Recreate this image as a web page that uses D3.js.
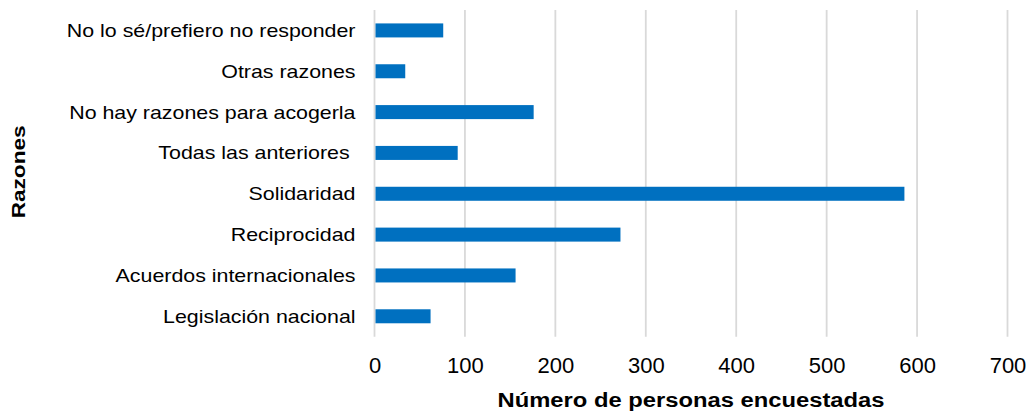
<!DOCTYPE html>
<html>
<head>
<meta charset="utf-8">
<script src="https://cdn.jsdelivr.net/npm/d3@7"></script>
<style>
  html, body { margin: 0; padding: 0; background: #fff; }
  svg { display: block; }
  text { font-family: "Liberation Sans", Arial, sans-serif; fill: #000; }
</style>
</head>
<body>
<svg id="chart" width="1031" height="412"></svg>
<script>
const categories = [
  "No lo sé/prefiero no responder",
  "Otras razones",
  "No hay razones para acogerla",
  "Todas las anteriores ",
  "Solidaridad",
  "Reciprocidad",
  "Acuerdos internacionales",
  "Legislación nacional"
];
const values = [76, 34, 176, 92, 586, 272, 156, 62];
const xTicks = [0, 100, 200, 300, 400, 500, 600, 700];
const xTitle = "Número de personas encuestadas";
const yTitle = "Razones";

(function () {
const svg = d3.select("#chart");
const pLeft = 374.5, pRight = 1007.5, pTop = 10, pBottom = 336.7;

const x = d3.scaleLinear().domain([0, 700]).range([pLeft, pRight]);
const y = d3.scaleBand().domain(categories).range([pTop, pBottom])
  .paddingInner(0.657).paddingOuter(0.3285);

// gridlines
svg.append("g").selectAll("line").data(xTicks).join("line")
  .attr("x1", d => x(d)).attr("x2", d => x(d))
  .attr("y1", pTop).attr("y2", pBottom)
  .attr("stroke", "#d9d9d9").attr("stroke-width", 1.8);

// bars
svg.append("g").selectAll("rect").data(values).join("rect")
  .attr("x", x(0) + 1)
  .attr("y", (d, i) => y(categories[i]))
  .attr("width", d => x(d) - x(0) - 1)
  .attr("height", y.bandwidth())
  .attr("fill", "#0070c0");

// x axis tick labels
const xAxis = d3.axisBottom(x).tickValues(xTicks).tickSize(0).tickPadding(0).tickFormat(d3.format("d"));
const gx = svg.append("g").attr("transform", `translate(0, ${pBottom})`).call(xAxis);
gx.select(".domain").remove();
gx.selectAll("text")
  .attr("y", 0).attr("dy", null)
  .attr("transform", "translate(0, 36.5)")
  .style("font-size", "22px")
  .style("font-family", '"Liberation Sans", Arial, sans-serif')
  .attr("fill", "#000");

// y axis category labels
const yAxis = d3.axisLeft(y).tickSize(0).tickPadding(19);
const gy = svg.append("g").attr("transform", `translate(${pLeft}, 0)`).call(yAxis);
gy.select(".domain").remove();
gy.selectAll("text")
  .attr("dy", "0.35em")
  .style("font-size", "18.5px")
  .style("font-family", '"Liberation Sans", Arial, sans-serif')
  .attr("fill", "#000")
  .style("white-space", "pre")
  .each(function () {
    const w = this.getComputedTextLength();
    d3.select(this).attr("textLength", w * 1.155).attr("lengthAdjust", "spacingAndGlyphs");
  });

// axis titles
svg.append("text")
  .attr("x", (pLeft + pRight) / 2).attr("y", 406.5)
  .attr("text-anchor", "middle")
  .style("font-size", "19.5px").style("font-weight", "bold")
  .attr("textLength", 387).attr("lengthAdjust", "spacingAndGlyphs")
  .text(xTitle);

svg.append("text")
  .attr("transform", `translate(24.5, ${(pTop + pBottom) / 2 - 1.5}) rotate(-90)`)
  .attr("text-anchor", "middle")
  .style("font-size", "19px").style("font-weight", "bold")
  .attr("textLength", 93).attr("lengthAdjust", "spacingAndGlyphs")
  .text(yTitle);
})();
</script>
</body>
</html>
